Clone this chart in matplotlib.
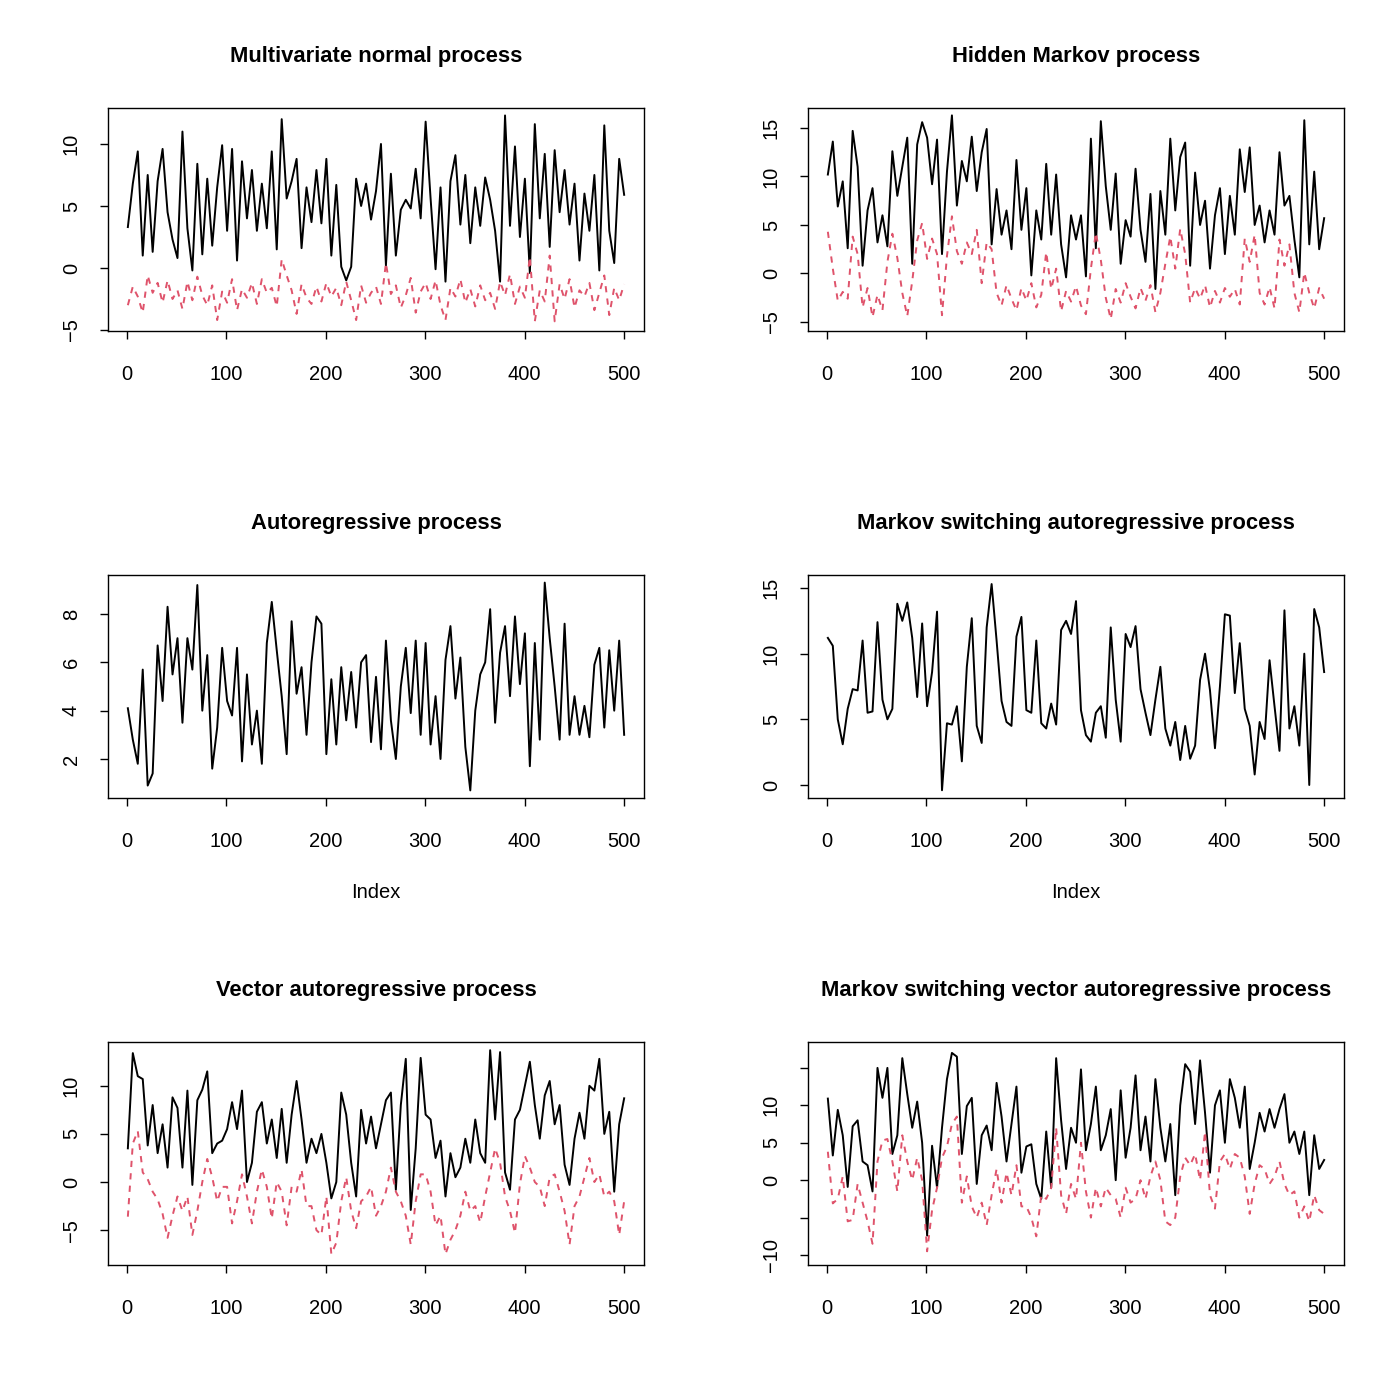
#!/usr/bin/env python3
"""Six simulated processes in a 3x2 grid (R base-graphics look)."""

import numpy as np
import matplotlib
matplotlib.use("Agg")
import matplotlib.pyplot as plt

plt.rcParams['font.family'] = ['Liberation Sans', 'DejaVu Sans']

RED = '#DF536B'

# values, roughly every 5th index (1..500)
mvn_1 = [3.3, 6.8, 9.4, 1.0, 7.5, 1.3, 7.0, 9.6, 4.5, 2.3,
         0.8, 11.0, 3.2, -0.2, 8.4, 1.1, 7.2, 1.8, 6.5, 9.9,
         3.0, 9.6, 0.6, 8.6, 4.0, 7.9, 3.0, 6.8, 3.2, 9.4,
         1.5, 12.0, 5.6, 7.0, 8.8, 1.6, 6.5, 3.7, 7.9, 3.6,
         8.8, 1.0, 6.7, 0.1, -1.0, 0.1, 7.2, 5.0, 6.8, 3.9,
         6.2, 10.0, 0.2, 7.6, 1.0, 4.7, 5.5, 4.8, 8.0, 4.0,
         11.8, 5.6, -0.1, 6.5, -1.1, 7.0, 9.1, 3.5, 7.5, 2.0,
         6.5, 3.4, 7.3, 5.5, 3.0, -1.1, 12.3, 3.4, 9.8, 2.5,
         7.2, -0.4, 11.6, 4.0, 9.2, 1.7, 9.5, 4.5, 7.9, 3.5,
         6.8, 0.6, 6.0, 3.0, 7.5, -0.2, 11.5, 3.0, 0.4, 8.8, 5.9]
mvn_2 = [-3.0, -1.5, -2.3, -3.6, -0.6, -2.0, -1.2, -2.8, -1.0, -2.5,
         -1.8, -3.3, -1.1, -2.6, -0.7, -2.2, -3.0, -1.4, -4.2, -1.9,
         -2.8, -0.9, -3.4, -1.7, -2.4, -1.2, -2.9, -0.9, -2.0, -1.6,
         -3.1, 0.7, -0.6, -1.8, -3.7, -1.3, -2.4, -2.9, -1.5, -2.7,
         -1.2, -2.3, -1.6, -3.0, -1.1, -2.6, -4.2, -1.4, -2.8, -2.0,
         -1.5, -2.9, 0.4, -2.1, -1.4, -3.2, -2.2, -0.8, -3.6, -1.9,
         -1.2, -2.5, -1.0, -3.0, -4.2, -1.6, -2.3, -0.9, -2.8, -1.7,
         -3.1, -1.4, -2.6, -2.0, -3.3, -1.1, -2.2, -0.5, -2.9, -1.5,
         -2.4, 0.9, -4.3, -1.8, -2.7, 1.0, -4.3, -1.3, -2.5, -0.9,
         -3.2, -1.8, -2.3, -1.2, -3.4, -2.0, -0.6, -3.8, -1.6, -2.6, -1.3]

hmm_1 = [10.2, 13.6, 6.9, 9.5, 2.6, 14.7, 11.0, 0.8, 6.5, 8.8,
         3.2, 6.0, 2.8, 12.6, 8.0, 11.0, 14.0, 1.0, 13.3, 15.6,
         14.0, 9.2, 13.8, 2.0, 10.5, 16.3, 7.0, 11.6, 9.5, 14.1,
         8.5, 12.5, 14.9, 3.0, 8.7, 4.0, 6.5, 2.5, 11.7, 4.5,
         8.8, -0.2, 6.5, 3.5, 11.3, 4.0, 10.2, 3.0, -0.4, 6.0,
         3.5, 6.0, -0.3, 13.9, 2.6, 15.7, 9.0, 4.5, 10.3, 1.0,
         5.5, 3.8, 10.8, 4.5, 1.2, 8.2, -1.6, 8.5, 4.0, 13.9,
         6.5, 12.0, 13.5, 0.8, 10.4, 5.0, 7.5, 0.5, 6.0, 8.8,
         2.0, 8.0, 4.0, 12.8, 8.4, 13.0, 5.0, 7.0, 3.2, 6.5,
         4.0, 12.5, 7.0, 8.0, 3.5, -0.4, 15.8, 3.0, 10.5, 2.5, 5.7]
hmm_2 = [4.3, 0.5, -2.8, -1.9, -2.6, 3.8, 2.0, -3.5, -1.5, -4.5,
         -2.2, -3.8, 1.2, 4.1, 1.6, -2.0, -4.4, -0.8, 3.4, 5.2,
         1.5, 3.6, 2.0, -4.3, 1.8, 5.9, 2.3, 1.0, 3.2, 2.0,
         4.5, -1.0, 3.2, 2.5, -2.0, -3.3, -1.2, -2.6, -3.8, -1.5,
         -2.8, -1.0, -3.5, -2.2, 2.2, -1.6, 0.5, -3.9, -1.8, -2.9,
         -1.3, -3.3, -4.2, 0.5, 4.2, 1.4, -2.5, -4.7, -1.6, -3.0,
         -1.0, -2.4, -3.6, -1.5, -2.8, -1.2, -4.0, -2.0, 1.0, 3.8,
         0.5, 4.6, 2.0, -3.0, -1.5, -2.6, -1.2, -3.5, -1.8, -3.0,
         -1.5, -2.4, -1.6, -3.2, 3.6, 1.2, 4.0, -2.0, -3.2, -1.4,
         -3.6, 3.5, 0.8, 3.0, -2.0, -4.0, 0.1, -2.0, -3.6, -1.5, -2.6]

ar_1 = [4.1, 2.8, 1.8, 5.7, 0.9, 1.4, 6.7, 4.4, 8.3, 5.5,
        7.0, 3.5, 7.0, 5.7, 9.2, 4.0, 6.3, 1.6, 3.3, 6.6,
        4.4, 3.8, 6.6, 1.9, 5.5, 2.6, 4.0, 1.8, 6.8, 8.5,
        6.5, 4.6, 2.2, 7.7, 4.7, 5.8, 3.0, 6.0, 7.9, 7.6,
        2.2, 5.3, 2.6, 5.8, 3.6, 5.6, 3.3, 6.0, 6.3, 2.7,
        5.4, 2.4, 6.9, 3.6, 2.0, 5.0, 6.6, 3.9, 6.9, 3.0,
        6.8, 2.6, 4.6, 2.0, 6.1, 7.5, 4.5, 6.2, 2.5, 0.7,
        4.0, 5.5, 6.0, 8.2, 3.5, 6.4, 7.5, 4.6, 7.9, 5.1,
        7.2, 1.7, 6.8, 2.8, 9.3, 7.0, 5.0, 2.8, 7.6, 3.0,
        4.6, 3.0, 4.2, 2.9, 5.9, 6.6, 3.3, 6.5, 4.0, 6.9, 3.0]

msar_1 = [11.2, 10.6, 5.0, 3.1, 5.8, 7.3, 7.2, 11.0, 5.5, 5.6,
          12.4, 6.5, 5.0, 5.8, 13.8, 12.5, 13.9, 11.2, 6.7, 12.3,
          6.0, 8.6, 13.2, -0.4, 4.7, 4.6, 6.0, 1.8, 9.0, 12.7,
          4.5, 3.2, 12.0, 15.3, 11.0, 6.4, 4.8, 4.5, 11.3, 12.8,
          5.7, 5.5, 11.0, 4.7, 4.3, 6.2, 4.6, 11.8, 12.5, 11.5,
          14.0, 5.7, 3.8, 3.3, 5.5, 6.0, 3.6, 12.0, 6.5, 3.3,
          11.5, 10.5, 12.1, 7.3, 5.5, 3.8, 6.5, 9.0, 4.3, 3.0,
          4.8, 1.9, 4.5, 2.0, 3.0, 8.0, 10.0, 7.2, 2.8, 7.5,
          13.0, 12.9, 7.0, 10.8, 5.8, 4.5, 0.8, 4.8, 3.5, 9.5,
          6.0, 2.6, 13.3, 4.3, 6.0, 3.0, 10.0, 0.0, 13.4, 12.0, 8.6]

var_1 = [3.5, 13.4, 11.0, 10.7, 3.8, 8.0, 3.0, 6.0, 1.5, 8.8,
         7.7, 1.5, 9.5, -0.3, 8.5, 9.6, 11.5, 3.0, 4.0, 4.3,
         5.5, 8.3, 5.5, 9.5, 0.0, 2.0, 7.3, 8.3, 4.0, 6.5,
         2.5, 7.6, 2.0, 7.0, 10.5, 6.5, 2.0, 4.5, 3.0, 5.0,
         2.0, -1.7, 0.0, 9.3, 7.0, 2.0, -1.5, 7.5, 4.0, 6.8,
         3.5, 6.0, 8.5, 9.3, -0.8, 8.0, 12.8, -2.9, 3.5, 12.9,
         7.0, 6.5, 2.5, 4.3, -1.5, 3.0, 0.5, 1.5, 4.5, 2.0,
         6.5, 3.0, 2.0, 13.7, 6.5, 13.5, 1.0, -0.8, 6.5, 7.5,
         10.0, 12.5, 8.0, 4.5, 9.0, 10.5, 6.0, 8.0, 1.8, -0.3,
         4.5, 7.2, 4.5, 10.0, 9.5, 12.8, 5.0, 7.3, -1.0, 6.0, 8.7]
var_2 = [-3.6, 4.0, 5.3, 1.0, 0.3, -1.0, -1.8, -3.3, -5.8, -3.5,
         -1.5, -3.0, -1.5, -5.5, -3.0, 0.0, 2.4, 0.5, -2.0, -0.5,
         -0.5, -4.3, -2.0, 0.8, -1.5, -4.3, -1.0, 1.3, -0.5, -3.8,
         0.0, -1.0, -4.5, -0.5, -1.0, 1.3, -2.5, -2.5, -5.0, -5.5,
         -1.5, -7.5, -6.3, -2.0, 0.5, -3.0, -4.8, -2.0, -1.5, -0.5,
         -3.5, -2.5, -1.0, 1.5, -1.0, -2.0, -3.5, -6.5, -2.0, 0.8,
         0.8, -1.0, -4.5, -3.5, -7.5, -6.0, -5.0, -3.5, -1.0, -3.0,
         -2.5, -4.2, -1.5, 1.0, 3.5, 2.0, -1.5, -3.0, -5.3, -0.2,
         2.7, 1.5, 0.0, -0.5, -2.5, 0.5, 0.8, -1.0, -3.0, -6.5,
         -2.5, -1.5, 0.5, 2.5, 0.0, 0.8, -1.5, -1.0, -2.0, -5.5, -2.0]

msvar_1 = [10.9, 3.3, 9.4, 6.0, -0.9, 7.2, 8.0, 2.5, 2.0, -1.5,
           15.0, 11.0, 15.0, 3.5, 6.0, 16.3, 11.5, 7.0, 10.5, 5.0,
           -7.4, 4.6, -1.0, 7.0, 13.5, 17.0, 16.5, 3.5, 9.9, 11.0,
           -0.5, 6.0, 7.3, 4.0, 13.0, 8.5, 2.5, 7.5, 12.5, 1.0,
           4.5, 4.8, -0.5, -2.5, 6.5, -1.0, 16.3, 8.0, 1.5, 7.0,
           5.0, 14.8, 4.0, 7.5, 12.5, 4.0, 6.0, 9.5, 0.0, 12.0,
           3.0, 7.0, 14.0, 4.0, 8.5, 2.5, 13.5, 7.0, 2.5, 7.5,
           -2.0, 10.0, 15.5, 14.5, 7.5, 16.0, 9.0, 1.0, 10.0, 12.0,
           5.0, 13.5, 11.0, 7.0, 12.5, 1.5, 5.0, 9.0, 6.5, 9.5,
           7.0, 9.5, 11.5, 5.0, 6.5, 3.5, 6.5, -2.0, 6.0, 1.5, 2.7]
msvar_2 = [3.8, -3.1, -2.5, 0.5, -5.5, -5.3, -0.5, -3.0, -5.5, -8.5,
           2.5, 5.3, 5.5, 2.5, -1.5, 6.0, 2.5, 0.0, 3.0, 0.0,
           -9.5, -4.0, -1.0, 3.0, 4.5, 7.5, 8.5, -3.0, 0.5, -3.5,
           -5.0, -3.0, -6.0, -2.0, 1.5, -3.0, 1.0, -2.0, 2.0, -3.5,
           -3.5, -5.0, -7.5, -2.0, -2.5, -1.0, 7.0, -2.0, -4.5, -0.5,
           -2.5, 5.0, -1.5, -5.0, -1.0, -3.5, -1.0, -2.0, -2.5, -5.0,
           -1.0, -3.0, -2.5, 0.0, -2.5, 0.5, 2.5, 0.0, -5.5, -6.0,
           -5.0, 0.5, 3.0, 2.0, 3.5, 0.0, 6.5, -2.0, -3.8, 2.5,
           3.5, 1.5, 3.5, 3.0, 0.5, -4.5, -0.5, 2.0, 1.5, -0.5,
           0.5, 2.5, -0.5, -2.0, -1.5, -5.0, -3.5, -5.5, -2.0, -4.0, -4.5]

panels = [
    ("Multivariate normal process", [mvn_1, mvn_2], (-5.08, 12.9),
     [-5, 0, 5, 10], None, False),
    ("Hidden Markov process", [hmm_1, hmm_2], (-5.93, 17.06),
     [-5, 0, 5, 10, 15], None, False),
    ("Autoregressive process", [ar_1], (0.385, 9.615),
     [2, 4, 6, 8], None, True),
    ("Markov switching autoregressive process", [msar_1], (-0.99, 15.99),
     [0, 5, 10, 15], None, True),
    ("Vector autoregressive process", [var_1, var_2], (-8.62, 14.55),
     [-5, 0, 5, 10], None, False),
    ("Markov switching vector autoregressive process", [msvar_1, msvar_2],
     (-11.33, 18.46), [-10, -5, 0, 5, 10, 15],
     ['\u221210', '', '0', '5', '10', ''], False),
]


def fmt(v):
    return str(v).replace('-', '\u2212')


fig = plt.figure(figsize=(14, 14), dpi=100)

lefts = [108 / 1400, 808 / 1400]
bottoms = [1 - 331 / 1400, 1 - 798 / 1400, 1 - 1265 / 1400]
w, h = 536 / 1400, 223 / 1400

for n, (title, series, ylim, yticks, ylabels, index_lab) in enumerate(panels):
    ax = fig.add_axes([lefts[n % 2], bottoms[n // 2], w, h])
    for j, s in enumerate(series):
        x = np.linspace(1, 500, len(s))
        if j == 0:
            ax.plot(x, s, color='black', lw=1.4)
        else:
            ax.plot(x, s, color=RED, lw=1.4, dashes=(3.2, 3.2))
    ax.set_xlim(-18.96, 519.96)
    ax.set_ylim(*ylim)
    ax.set_xticks([0, 100, 200, 300, 400, 500])
    ax.set_xticklabels(['0', '100', '200', '300', '400', '500'])
    ax.set_yticks(yticks)
    ax.set_yticklabels(ylabels if ylabels else [fmt(t) for t in yticks],
                       rotation=90, va='center')
    ax.tick_params(direction='out', length=5.5, width=1.0,
                   labelsize=14.5, color='black')
    ax.tick_params(axis='x', pad=19)
    ax.tick_params(axis='y', pad=14)
    for sp in ax.spines.values():
        sp.set_linewidth(1.0)
    ax.set_title(title, fontsize=15.8, fontweight='bold', pad=33)
    if index_lab:
        ax.text(0.5, -100 / 223, 'Index', transform=ax.transAxes,
                ha='center', va='baseline', fontsize=14.5)

fig.savefig('out.png', dpi=100)
